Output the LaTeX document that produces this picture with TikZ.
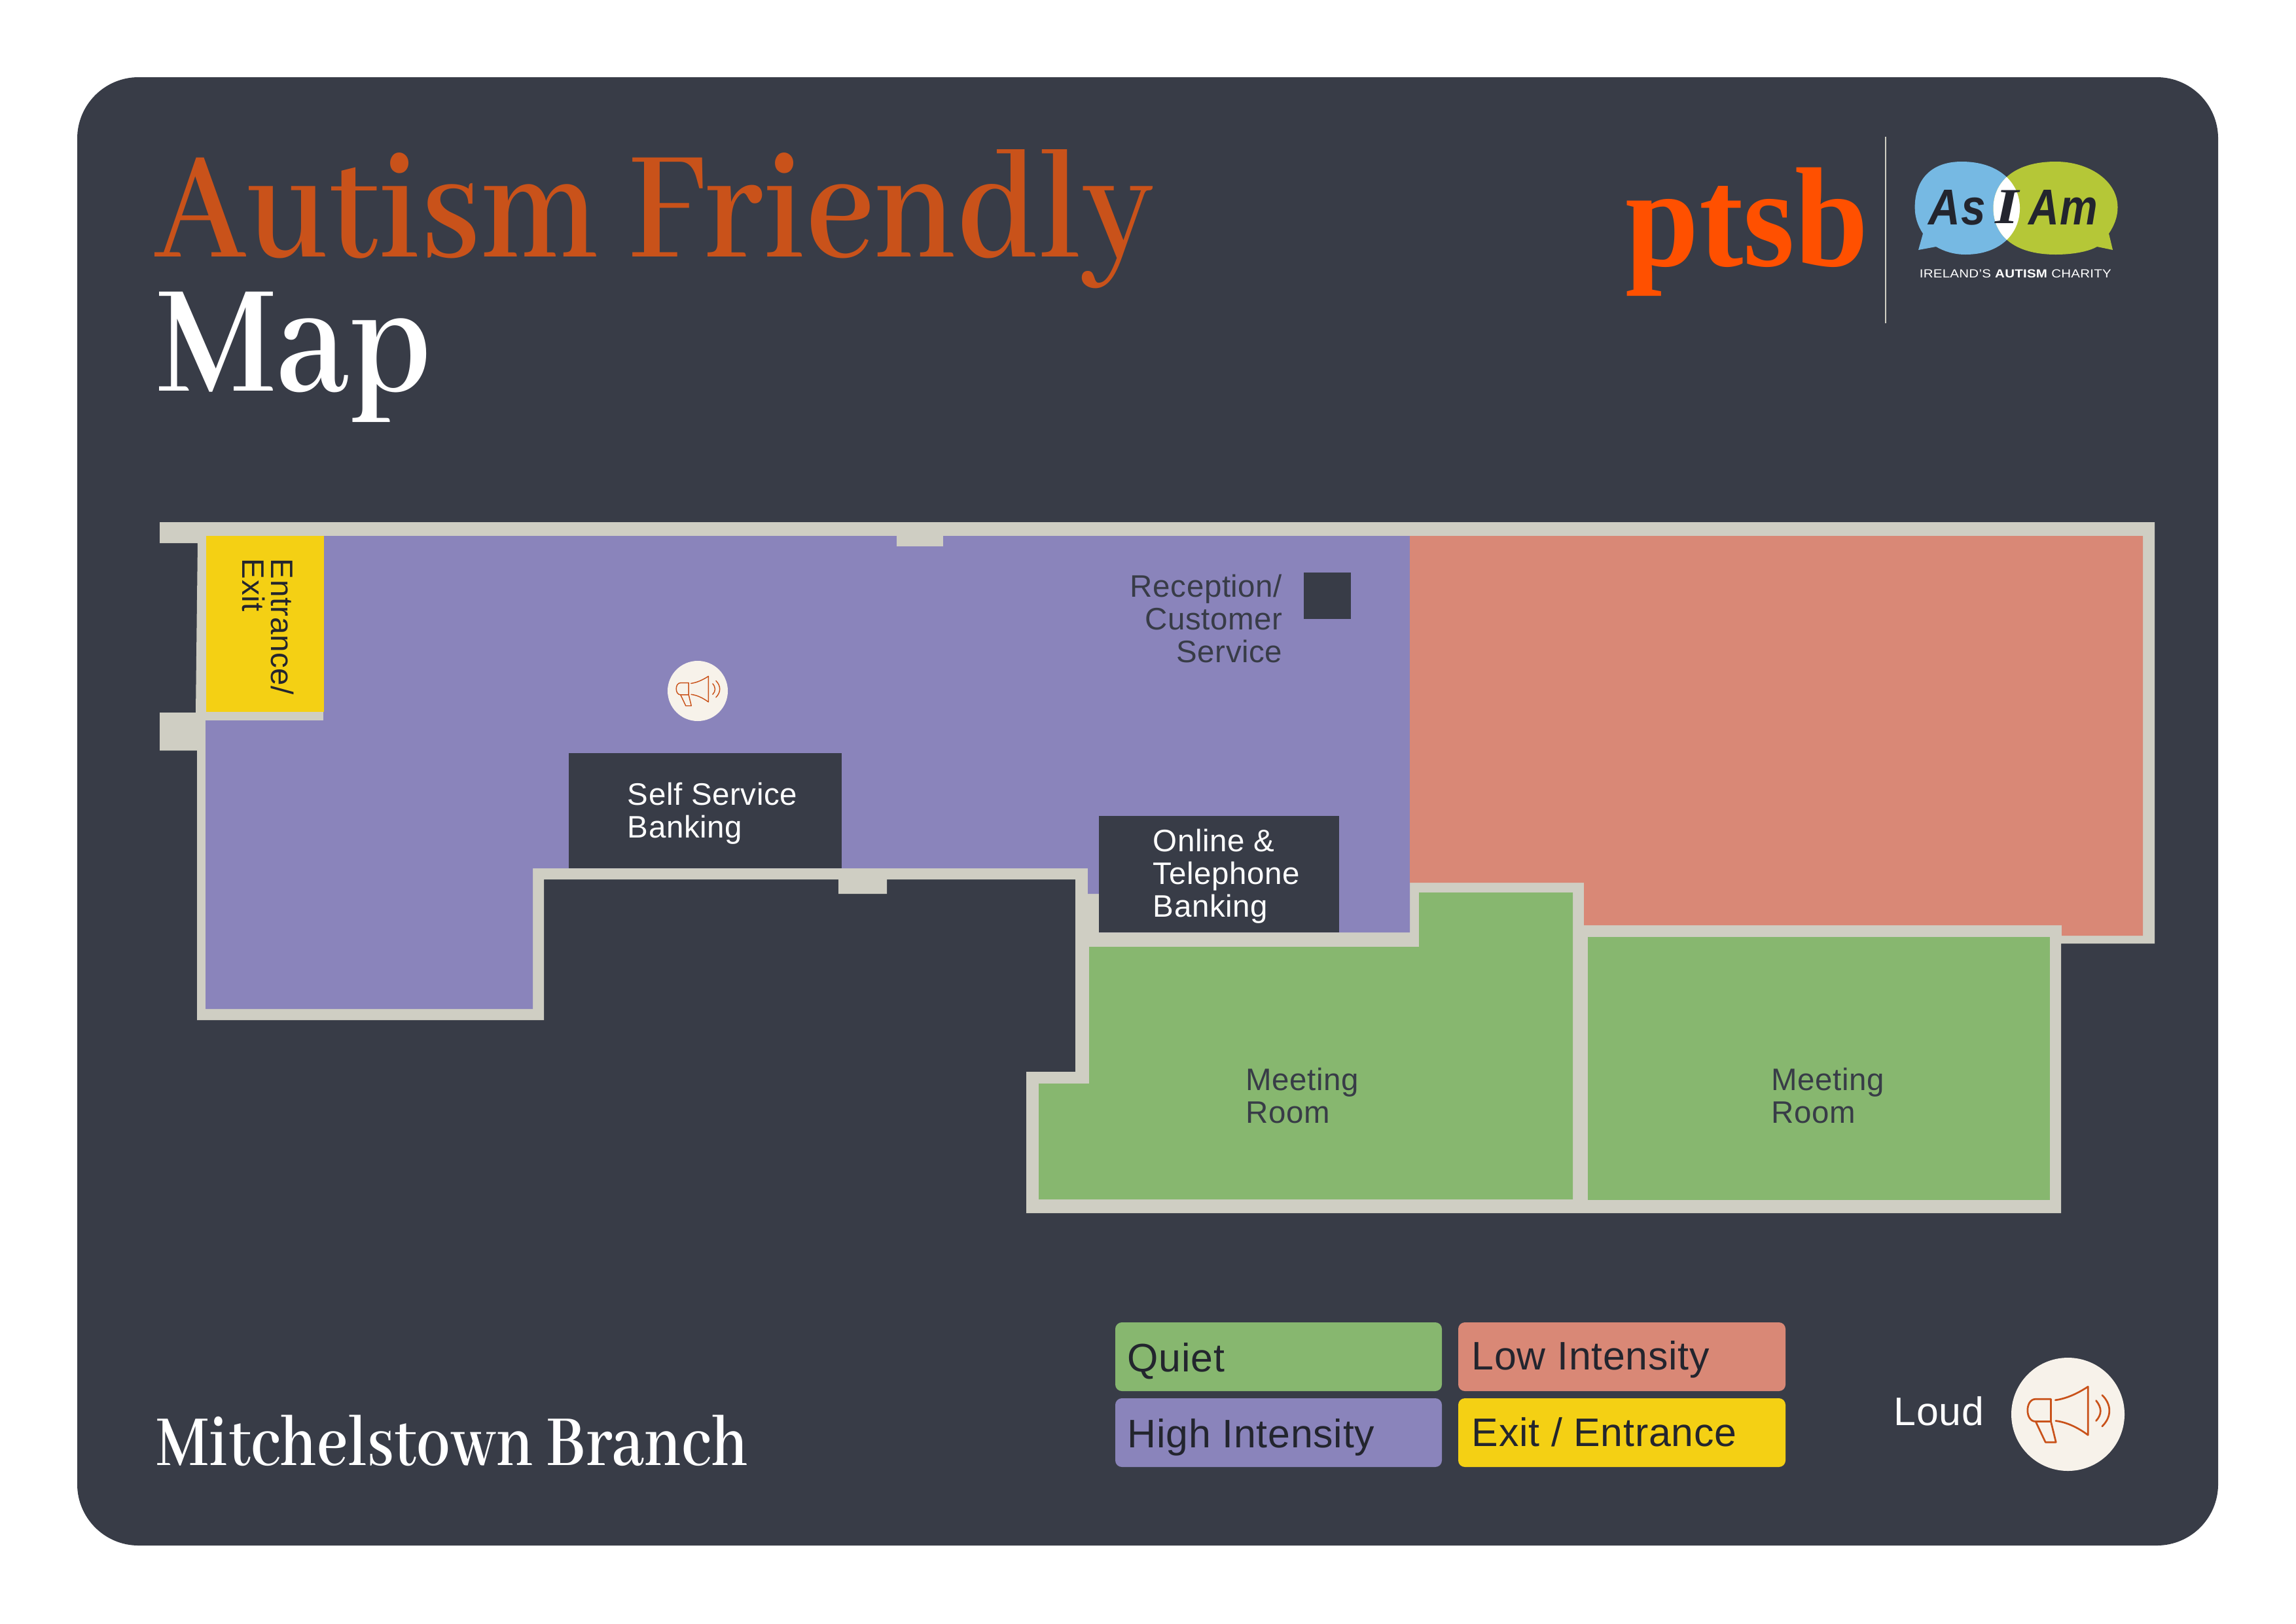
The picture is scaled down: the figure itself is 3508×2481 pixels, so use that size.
\documentclass[tikz,border=0pt]{standalone}
\usepackage{fontspec}
\usepackage{graphicx}
\setmainfont[LetterSpace=1.2]{Liberation Sans}
\newfontfamily\dispfont{Abhaya Libre SemiBold}
\newfontfamily\lserif{Liberation Serif}
\definecolor{bgdark}{HTML}{383C47}
\definecolor{wallc}{HTML}{CFCEC3}
\definecolor{purp}{HTML}{8A84BB}
\definecolor{redz}{HTML}{D98876}
\definecolor{greenz}{HTML}{87B76F}
\definecolor{yellz}{HTML}{F4D014}
\definecolor{orangeT}{HTML}{C9521A}
\definecolor{orangeL}{HTML}{FF5000}
\definecolor{creamc}{HTML}{F7F2EA}
\definecolor{blueb}{HTML}{76B9E3}
\definecolor{greenb}{HTML}{B5C737}
\definecolor{inkd}{HTML}{23252E}
\tikzset{
  lab/.style={anchor=base west,inner sep=0pt,font=\fontsize{11.4}{13}\selectfont},
  labr/.style={anchor=base east,inner sep=0pt,font=\fontsize{11.4}{13}\selectfont},
  leg/.style={anchor=base west,inner sep=0pt,font=\fontsize{14.6}{17}\selectfont,text=inkd},
  legbox/.style={rounded corners=2.4pt},
  title/.style={anchor=base west,inner sep=0pt},
  rot/.style={anchor=base west,inner sep=0pt,rotate=-90,font=\fontsize{11.4}{13}\selectfont,text=inkd},
  megaline/.style={draw=orangeT,line cap=round,line join=round,fill=none},
}
\newcommand{\megaphone}[4]{%
  \fill[creamc] (#1,#2) circle (#3);
  \begin{scope}[shift={(#1,#2)},scale=#3/86.5,megaline,line width=#4]
    \draw (-26,-23.3) -- (-49.3,-23.3) .. controls (-65.8,-23.3) and (-65.8,11) .. (-49.3,11) -- (-26,11) -- cycle;
    \draw (-49.3,11) -- (-34.3,42.7) -- (-18.3,42.7) -- (-26,11);
    \draw (-19.3,-21.7) .. controls (-2,-24) and (15,-32) .. (30.7,-42.3) -- (30.7,31.7) .. controls (15,20) and (-2,12) .. (-18.7,10);
    \draw (43,-21) .. controls (52,-10) and (52,0) .. (43,10);
    \draw (52.3,-29.3) .. controls (67,-15) and (67,4) .. (52.3,18.3);
  \end{scope}}
\begin{document}
\begin{tikzpicture}[x=0.24pt,y=-0.24pt]
\useasboundingbox (0,0) rectangle (3508,2481);
\fill[white] (0,0) rectangle (3508,2481);
\fill[bgdark,rounded corners=22.5pt] (118,118) rectangle (3389,2362);

% titles
\node[title,text=orangeT] (t1) at (236,392) {\resizebox{366pt}{\height}{\fontsize{62}{70}\dispfont\selectfont Autism Friendly}};
\node[title,text=white] (t2) at (238,597) {\resizebox{101pt}{\height}{\fontsize{62}{70}\dispfont\selectfont Map}};
\node[title,text=white] (t3) at (238,2239) {\resizebox{217pt}{\height}{\fontsize{29}{34}\dispfont\selectfont Mitchelstown Branch}};

% ptsb logo
\node[title,text=orangeL] (ptsb) at (2483,406) {\resizebox{89pt}{\height}{\fontsize{52}{58}\lserif\bfseries\selectfont ptsb}};
\draw[wallc,line width=0.45pt] (2881,209) -- (2881,494);

% As I Am logo
\def\bluebub{(2997,247) .. controls (3055,247) and (3086,280) .. (3086,318) .. controls (3086,358) and (3055,389) .. (3003,389) .. controls (2985,389) and (2970,384) .. (2958,377) -- (2931,382) -- (2938,357) .. controls (2930,345) and (2925.6,332) .. (2925.6,317) .. controls (2925.6,275) and (2950,247) .. (2997,247) -- cycle}
\def\greenbub{(3141,247) .. controls (3190,247) and (3235.5,275) .. (3235.5,317) .. controls (3235.5,332) and (3230,345) .. (3222,357) -- (3228,382) -- (3204,377) .. controls (3190,385) and (3165,389) .. (3141,389) .. controls (3075,389) and (3045.5,358) .. (3045.5,318) .. controls (3045.5,280) and (3075,247) .. (3141,247) -- cycle}
\fill[blueb] \bluebub;
\fill[greenb] \greenbub;
\begin{scope}
  \clip \bluebub;
  \fill[white] \greenbub;
\end{scope}
\node[title,text=inkd] (as) at (2946,343) {\resizebox{20.9pt}{\height}{\fontsize{18.5}{20}\selectfont\bfseries\itshape As}};
\node[title,text=inkd] (ii) at (3048,341) {\resizebox{8.6pt}{\height}{\fontsize{18.5}{20}\lserif\selectfont\bfseries\itshape I}};
\node[title,text=inkd] (am) at (3099,343) {\resizebox{25.2pt}{\height}{\fontsize{18.5}{20}\selectfont\bfseries\itshape Am}};
\node[title,text=white] (tag) at (2932,424) {\resizebox{70.3pt}{\height}{\fontsize{4.3}{5}\selectfont IRELAND'S \textbf{AUTISM} CHARITY}};

% walls
\fill[wallc] (244,798) -- (3292,798) -- (3292,1442) -- (3149,1442) -- (3149,1854) -- (1568,1854) -- (1568,1638) -- (1643,1638) -- (1643,1344) -- (1355,1344) -- (1355,1366) -- (1281,1366) -- (1281,1344) -- (831,1344) -- (831,1559) -- (301,1559) -- (301,1147) -- (244,1147) -- (244,1089) -- (299,1089) -- (302,830) -- (244,830) -- cycle;

% rooms
\fill[purp] (495,819) -- (2154,819) -- (2154,1425) -- (1679,1425) -- (1679,1366) -- (1662,1366) -- (1662,1327) -- (814,1327) -- (814,1542) -- (314,1542) -- (314,1101) -- (494,1101) -- cycle;
\fill[yellz] (315,819) rectangle (495,1088);
\fill[redz] (2154,819) -- (3274,819) -- (3274,1430) -- (3150,1430) -- (3150,1414) -- (2420,1414) -- (2420,1349) -- (2154,1349) -- cycle;
\fill[greenz] (1664,1447) -- (2168,1447) -- (2168,1364) -- (2403,1364) -- (2403,1833) -- (1587,1833) -- (1587,1656) -- (1664,1656) -- cycle;
\fill[greenz] (2426,1432) rectangle (3132,1834);
\fill[wallc] (1370,810) rectangle (1441,835);

% fixtures
\fill[bgdark] (869,1151) rectangle (1286,1327);
\fill[bgdark] (1679,1247) rectangle (2046,1425);
\fill[bgdark] (1992,875) rectangle (2064,946);

% room labels
\node[lab,text=white] (ss1) at (958,1230) {Self Service};
\node[lab,text=white] (ss2) at (958,1280) {Banking};
\node[lab,text=white] (ot1) at (1761,1301) {Online \&};
\node[lab,text=white] (ot2) at (1761,1351) {Telephone};
\node[lab,text=white] (ot3) at (1761,1401) {Banking};
\node[labr,text=bgdark] (rc1) at (1960,912) {Reception/};
\node[labr,text=bgdark] (rc2) at (1960,962) {Customer};
\node[labr,text=bgdark] (rc3) at (1960,1012) {Service};
\node[lab,text=bgdark] (mr1) at (1903,1666) {Meeting};
\node[lab,text=bgdark] (mr2) at (1903,1716) {Room};
\node[lab,text=bgdark] (mr3) at (2706,1666) {Meeting};
\node[lab,text=bgdark] (mr4) at (2706,1716) {Room};
\node[rot] (en1) at (414,853) {Entrance/};
\node[rot] (en2) at (370,853) {Exit};

\megaphone{1066}{1056}{46}{0.35pt}

% legend
\fill[greenz,legbox] (1704,2021) rectangle (2203,2126);
\fill[redz,legbox] (2228,2021) rectangle (2728,2126);
\fill[purp,legbox] (1704,2137) rectangle (2203,2242);
\fill[yellz,legbox] (2228,2137) rectangle (2728,2242);
\node[leg] (lq) at (1722,2096) {Quiet};
\node[leg] (ll) at (2248,2093) {Low Intensity};
\node[leg] (lh) at (1722,2212) {High Intensity};
\node[leg] (le) at (2248,2210) {Exit / Entrance};
\node[leg,text=white] (ld) at (2893,2178) {Loud};
\megaphone{3159.5}{2161.5}{86.5}{0.65pt}
\end{tikzpicture}
\end{document}
